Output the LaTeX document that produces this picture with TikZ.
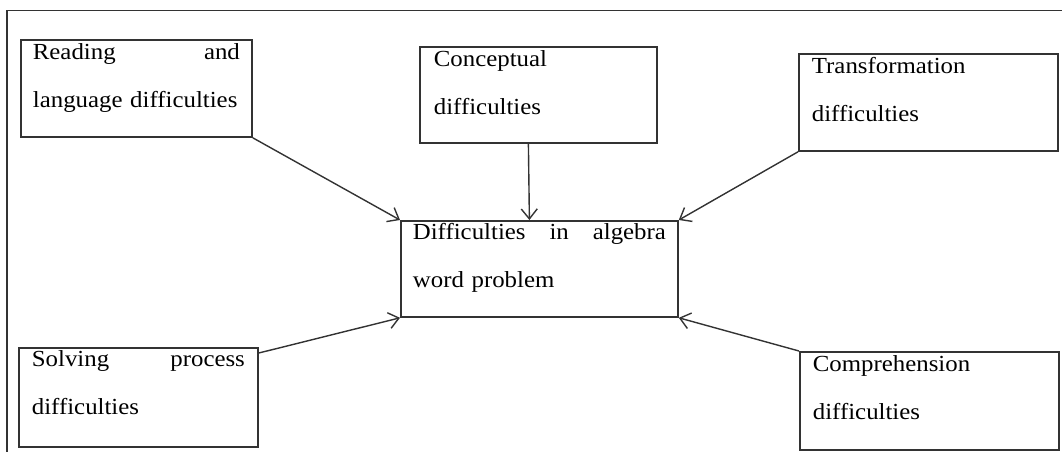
\documentclass[tikz,border=0pt]{standalone}
\usepackage{fontspec}
\setmainfont{Liberation Serif}[FakeStretch=1.08]
\usetikzlibrary{arrows.meta, positioning, calc}
\hyphenpenalty=10000

\begin{document}
\begin{tikzpicture}[
                x=0.5pt, y=-0.5pt,
                box/.style={rectangle, draw=black!80, line width=0.9pt, anchor=north west, align=left,
                        inner ysep=0pt, inner xsep=6.5pt, text height=10pt,
                        font=\fontsize{11.5}{24}\selectfont},
                ->, >={Straight Barb[length=5pt,width=8pt]}, line width=0.7pt, draw=black!80
        ]
        \useasboundingbox (0,0) rectangle (1062,452);

        % Define the outer frame
        \draw[-, line width=0.9pt] (1062,10.5) -| (7,452);

        % Define the main node
        \node[box, text width=126.5pt, inner xsep=6pt, text height=9.5pt, text depth=38.5pt] (problem) at (400,220)
                {Difficulties\hfill in\hfill algebra\\word problem};

        % Define the cause nodes
        \node[box, text width=103.5pt, inner xsep=6pt, text depth=38.5pt] (reading) at (20,39)
                {Reading\hfill and\\language difficulties};
        \node[box, text width=104.5pt, inner xsep=7pt, text depth=38pt] (concept) at (419,46)
                {Conceptual\\difficulties};
        \node[box, text width=116.5pt, text depth=38.5pt] (transform) at (798,53)
                {Transformation\\difficulties};
        \node[box, text width=106.5pt, text height=9.5pt, text depth=40pt] (solving) at (18,347)
                {Solving\hfill process\\difficulties};
        \node[box, text width=116.5pt, text depth=39pt] (comprehension) at (799,351)
                {Comprehension\\difficulties};

        % Draw the arrows
        \draw[->] (reading.south east) -- (problem.north west);
        \draw[->] ([xshift=-5pt]concept.south) -- ([xshift=-5pt]problem.north);
        \draw[->] (transform.south west) -- (problem.north east);
        \draw[->] ([yshift=-3pt]solving.north east) -- (problem.south west);
        \draw[->] (comprehension.north west) -- (problem.south east);
\end{tikzpicture}
\end{document}
